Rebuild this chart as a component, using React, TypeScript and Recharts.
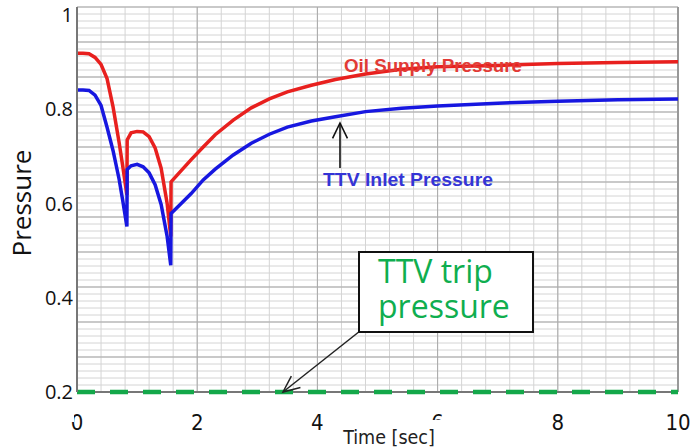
import React from 'react';
import { LineChart, Line, XAxis, YAxis, CartesianGrid, ReferenceLine } from 'recharts';

// ---- data ----
const TIME_SEC = [0, 0.1, 0.2, 0.3, 0.4, 0.5, 0.6, 0.7, 0.76, 0.83, 0.835, 0.9, 1.0, 1.1, 1.2, 1.3, 1.4, 1.5, 1.56, 1.565, 1.7, 1.9, 2.1, 2.3, 2.6, 2.9, 3.2, 3.5, 3.9, 4.3, 4.8, 5.4, 6.0, 7.0, 8.0, 9.0, 10];
const OIL_SUPPLY_PRESSURE = [0.919, 0.919, 0.918, 0.91, 0.895, 0.865, 0.805, 0.73, 0.68, 0.618, 0.735, 0.75, 0.753, 0.752, 0.742, 0.718, 0.675, 0.6, 0.53, 0.646, 0.665, 0.693, 0.72, 0.746, 0.777, 0.803, 0.822, 0.837, 0.851, 0.863, 0.875, 0.885, 0.89, 0.893, 0.897, 0.899, 0.901];
const TTV_INLET_PRESSURE = [0.841, 0.841, 0.84, 0.83, 0.808, 0.762, 0.712, 0.652, 0.607, 0.551, 0.672, 0.68, 0.683, 0.678, 0.665, 0.64, 0.598, 0.53, 0.469, 0.579, 0.596, 0.621, 0.65, 0.673, 0.703, 0.728, 0.747, 0.762, 0.775, 0.784, 0.795, 0.802, 0.807, 0.813, 0.817, 0.82, 0.822];
const TRIP_PRESSURE = 0.2;
const X_TICKS = [0, 2, 4, 6, 8, 10];
const Y_TICKS = [0.2, 0.4, 0.6, 0.8, 1];
const X_DOMAIN: [number, number] = [0, 10];
const Y_DOMAIN: [number, number] = [0.2, 1.017];

const SERIES_NAMES = { oil: 'Oil Supply Pressure', ttv: 'TTV Inlet Pressure' };

const data = TIME_SEC.map((t, i) => ({ t, oil: OIL_SUPPLY_PRESSURE[i], ttv: TTV_INLET_PRESSURE[i] }));

// ---- grid helpers (divide the plot area) ----
const plotBox = (props: any) => {
  const o = props.offset || {};
  const top = o.top ?? 0;
  const left = o.left ?? 0;
  const h = o.height ?? (props.height - (o.top ?? 0) - (o.bottom ?? 0));
  const w = o.width ?? (props.width - (o.left ?? 0) - (o.right ?? 0));
  return { top, left, h, w };
};
const hGen = (n: number) => (props: any) => {
  const { top, h } = plotBox(props);
  const out: number[] = [];
  for (let k = 0; k <= n; k++) out.push(top + (h * k) / n);
  return out;
};
const vGen = (n: number) => (props: any) => {
  const { left, w } = plotBox(props);
  const out: number[] = [];
  for (let k = 0; k <= n; k++) out.push(left + (w * k) / n);
  return out;
};

const XTick = (props: any) => {
  const { x, y, payload } = props;
  return (
    <text x={x} y={y} dy={38} textAnchor="middle" fill="#111" fontSize={22}
      fontFamily="'DejaVu Sans Condensed', 'DejaVu Sans', sans-serif" style={{ fontStretch: 'condensed' }}>
      {payload.value}
    </text>
  );
};
const YTick = (props: any) => {
  const { x, y, payload } = props;
  return (
    <text x={x} y={y} dy={7} textAnchor="end" fill="#111" fontSize={20} fontFamily="'Open Sans', sans-serif">
      {payload.value}
    </text>
  );
};

const arrowHead = (tx: number, ty: number, fx: number, fy: number, len: number, deg: number) => {
  const a = Math.atan2(fy - ty, fx - tx);
  const r = (deg * Math.PI) / 180;
  const p1 = [tx + len * Math.cos(a + r), ty + len * Math.sin(a + r)];
  const p2 = [tx + len * Math.cos(a - r), ty + len * Math.sin(a - r)];
  return `M${p1[0]},${p1[1]} L${tx},${ty} L${p2[0]},${p2[1]}`;
};

export default function App() {
  return (
    <div style={{ position: 'absolute', left: 0, top: 0, width: 692, height: 448, background: '#fff' }}>
      <LineChart width={692} height={448} data={data} margin={{ top: 7, right: 14, left: 0, bottom: 0 }}>
        <CartesianGrid stroke="#d4d4d4" strokeWidth={1} horizontalCoordinatesGenerator={hGen(55)} verticalCoordinatesGenerator={vGen(25)} />
        <CartesianGrid stroke="#a9a9a9" strokeWidth={1} horizontalCoordinatesGenerator={hGen(11)} verticalCoordinatesGenerator={vGen(5)} />
        <XAxis type="number" dataKey="t" domain={X_DOMAIN} ticks={X_TICKS} interval={0} height={56}
          tickLine={false} tickSize={0} tickMargin={0} axisLine={false} tick={<XTick />} allowDataOverflow />
        <YAxis type="number" domain={Y_DOMAIN} ticks={Y_TICKS} interval={0} width={77}
          tickLine={false} tickSize={3} tickMargin={1} axisLine={{ stroke: '#777', strokeWidth: 2 }} tick={<YTick />} allowDataOverflow />
        <ReferenceLine x={X_DOMAIN[1]} stroke="#999" strokeWidth={2} />
        <ReferenceLine y={Y_DOMAIN[0]} stroke="#777" strokeWidth={2} />
        <ReferenceLine y={TRIP_PRESSURE} stroke="#14a84a" strokeWidth={4.5} strokeDasharray="18 15" />
        <Line type="linear" dataKey="oil" name={SERIES_NAMES.oil} stroke="#e8201e" strokeWidth={3.5} dot={false} isAnimationActive={false} />
        <Line type="linear" dataKey="ttv" name={SERIES_NAMES.ttv} stroke="#1717e0" strokeWidth={3.5} dot={false} isAnimationActive={false} />
      </LineChart>
      <svg width={692} height={448} style={{ position: 'absolute', left: 0, top: 0, pointerEvents: 'none' }}>
        {/* white patches partially hiding the 0 and 6 tick labels, as in the reference */}
        <rect x={62} y={406} width={12} height={16} fill="#fff" />
        <rect x={336} y={420} width={114} height={28} fill="#fff" />
        <text x={389} y={444} textAnchor="middle" fontSize={19.5} fill="#222"
          fontFamily="'DejaVu Sans Condensed', 'DejaVu Sans', sans-serif" style={{ fontStretch: 'condensed' }}>Time [sec]</text>
        <text transform="translate(31,203) rotate(-90)" textAnchor="middle" fontSize={26} fill="#111"
          fontFamily="'Open Sans', sans-serif">Pressure</text>

        <text x={344} y={72} fontSize={18} fontWeight="bold" fill="#e23a35" textLength={178} lengthAdjust="spacingAndGlyphs"
          fontFamily="'Liberation Sans', Arial, sans-serif">{SERIES_NAMES.oil}</text>
        <text x={323} y={186} fontSize={18} fontWeight="bold" fill="#3434d6" textLength={170} lengthAdjust="spacingAndGlyphs"
          fontFamily="'Liberation Sans', Arial, sans-serif">{SERIES_NAMES.ttv}</text>

        <line x1={340} y1={168} x2={340} y2={123} stroke="#111" strokeWidth={1.6} />
        <path d={arrowHead(340, 123, 340, 168, 17, 26)} fill="none" stroke="#111" strokeWidth={1.6} />

        <line x1={360} y1={331} x2={283} y2={392} stroke="#222" strokeWidth={1.5} />
        <path d={arrowHead(283, 392, 360, 331, 18, 24)} fill="none" stroke="#222" strokeWidth={1.5} />

        <rect x={359} y={252} width={174} height={80} fill="#fff" stroke="#111" strokeWidth={2} />
        <text x={378} y={283} fontSize={32} fill="#0fae4f" fontFamily="'Open Sans', sans-serif">TTV trip</text>
        <text x={378} y={318} fontSize={32} fill="#0fae4f" fontFamily="'Open Sans', sans-serif">pressure</text>
      </svg>
    </div>
  );
}
